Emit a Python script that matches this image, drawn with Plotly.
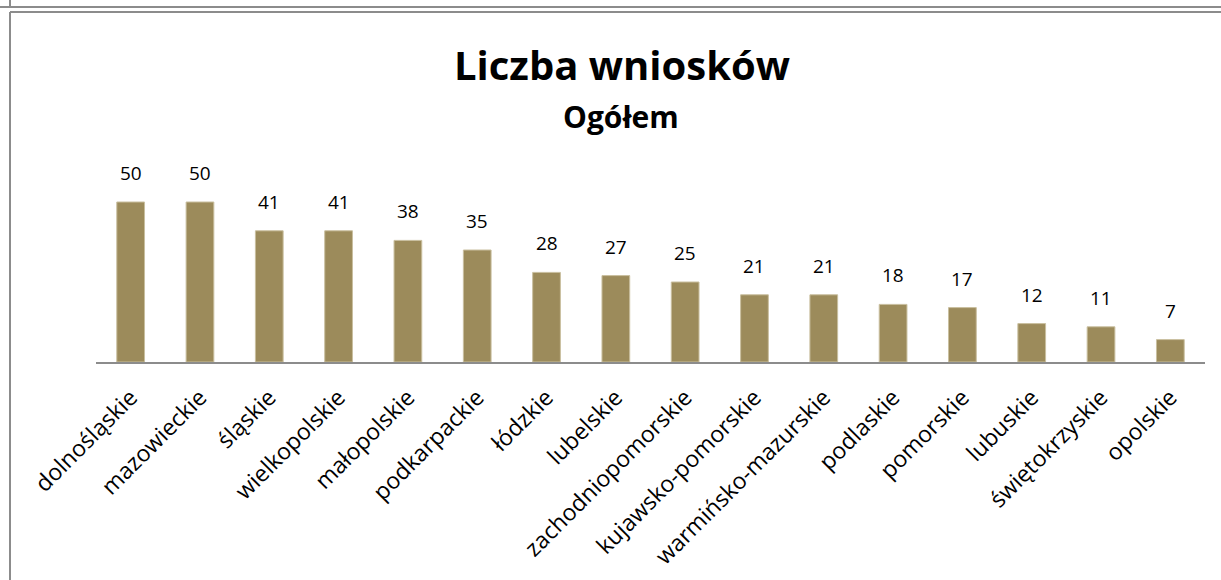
import plotly.graph_objects as go

categories = ["dolnośląskie", "mazowieckie", "śląskie", "wielkopolskie", "małopolskie",
              "podkarpackie", "łódzkie", "lubelskie", "zachodniopomorskie",
              "kujawsko-pomorskie", "warmińsko-mazurskie", "podlaskie", "pomorskie",
              "lubuskie", "świętokrzyskie", "opolskie"]
values = [50, 50, 41, 41, 38, 35, 28, 27, 25, 21, 21, 18, 17, 12, 11, 7]

W, H = 1221, 580
L, R, T, B = 96, 1205, 170, 362

def px(x):
    return (x - L) / (R - L)

def py(y):
    return (B - y) / (B - T)

fig = go.Figure(go.Bar(
    x=categories, y=values,
    marker=dict(color="#9C8B5B", line=dict(color="#C9BF9F", width=1)),
    width=0.4,
    hoverinfo="skip",
))

gray = "#8C8C8C"
shapes = [
    dict(type="line", xref="paper", yref="paper", x0=px(0), x1=px(W), y0=py(7), y1=py(7),
         line=dict(color=gray, width=2)),
    dict(type="line", xref="paper", yref="paper", x0=px(10), x1=px(10), y0=py(0), y1=py(7),
         line=dict(color=gray, width=2)),
    dict(type="line", xref="paper", yref="paper", x0=px(10), x1=px(W), y0=py(12), y1=py(12),
         line=dict(color=gray, width=2)),
    dict(type="line", xref="paper", yref="paper", x0=px(10), x1=px(10), y0=py(12), y1=py(H),
         line=dict(color=gray, width=2)),
]

annotations = [
    dict(text="<b>Liczba wniosków</b>", xref="paper", yref="paper", x=px(622), y=py(64),
         showarrow=False, font=dict(family="Open Sans", size=40, color="#000"),
         xanchor="center", yanchor="middle"),
    dict(text="<b>Ogółem</b>", xref="paper", yref="paper", x=px(621), y=py(117),
         showarrow=False, font=dict(family="Open Sans", size=30, color="#000"),
         xanchor="center", yanchor="middle"),
]
for c, v in zip(categories, values):
    annotations.append(dict(text=str(v), x=c, y=v, xref="x", yref="y", showarrow=False,
                            yanchor="bottom", yshift=14,
                            font=dict(family="Open Sans", size=19, color="#000")))

fig.update_layout(
    width=W, height=H,
    margin=dict(l=L, r=W - R, t=T, b=H - B, pad=0),
    paper_bgcolor="white", plot_bgcolor="white",
    showlegend=False,
    bargap=0.6,
    shapes=shapes,
    annotations=annotations,
)
fig.update_xaxes(
    tickangle=-45, tickfont=dict(family="Open Sans", size=23, color="#000"),
    ticklabelstandoff=11, automargin=False,
    showline=True, linecolor=gray, linewidth=2, ticks="", showgrid=False,
)
fig.update_yaxes(range=[0, 60], visible=False, showgrid=False, zeroline=False)

fig.write_html(
    "out.html", config={"displayModeBar": False},
    post_script=("document.body.style.margin='0';"
                 "document.body.style.overflow='hidden';"
                 "document.documentElement.style.overflow='hidden';"),
)
